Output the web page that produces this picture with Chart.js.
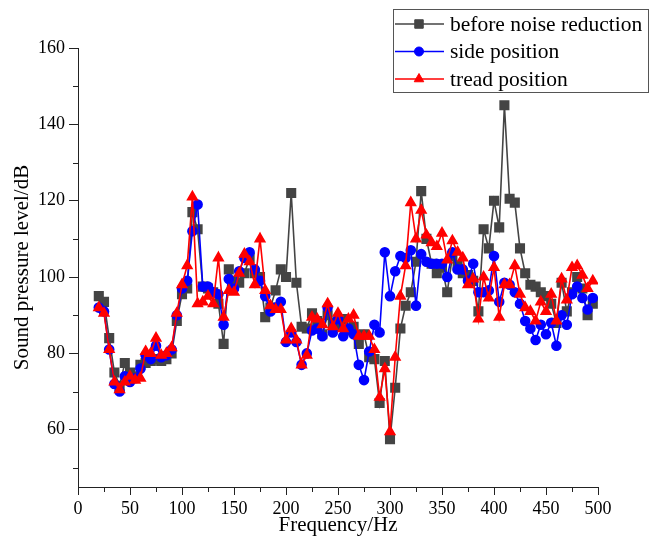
<!DOCTYPE html>
<html>
<head>
<meta charset="utf-8">
<script src="https://cdn.jsdelivr.net/npm/chart.js@4.4.1/dist/chart.umd.min.js"></script>
<style>
  html, body { margin: 0; padding: 0; background: #fff; }
  #wrap { width: 657px; height: 536px; }
</style>
</head>
<body>
<div id="wrap"><canvas id="noiseChart" width="657" height="536"></canvas></div>
<script>
// measured spectra, one value every 5 Hz
const frequency = [
  20, 25, 30, 35, 40, 45, 50, 55, 60, 65, 70, 75, 80, 85, 90, 95,
  100, 105, 110, 115, 120, 125, 130, 135, 140, 145, 150, 155, 160, 165, 170, 175,
  180, 185, 190, 195, 200, 205, 210, 215, 220, 225, 230, 235, 240, 245, 250, 255,
  260, 265, 270, 275, 280, 285, 290, 295, 300, 305, 310, 315, 320, 325, 330, 335,
  340, 345, 350, 355, 360, 365, 370, 375, 380, 385, 390, 395, 400, 405, 410, 415,
  420, 425, 430, 435, 440, 445, 450, 455, 460, 465, 470, 475, 480, 485, 490, 495
];
const beforeReduction = [
  95, 93.5, 84, 75, 71.5, 77.5, 75, 74, 77, 77.5, 78, 78.5, 78, 78.5, 80, 88.5,
  95.5, 97, 117, 112.5, 97.5, 97, 96, 93, 82.5, 102, 99, 98.5, 101, 105, 101, 100,
  89.5, 92, 96.5, 102, 100, 122, 98.5, 87, 86.5, 90.5, 88.5, 85, 90, 88, 87, 89,
  86, 87, 82.5, 85, 79, 78.5, 67, 78, 57.5, 71, 86.5, 92.5, 96, 104, 122.5, 110,
  103.5, 101, 102.5, 96, 105.5, 103, 101, 100.5, 99, 91, 112.5, 107.5, 120, 113, 145, 120.5,
  119.5, 107.5, 101, 98, 97.5, 96, 95, 93, 88, 98.5, 91, 96, 100, 97, 90, 93
];
const sidePosition = [
  92, 91, 81, 72, 70, 74, 72.5, 73.5, 76, 79.5, 78.5, 82, 79, 79.5, 81, 90,
  97, 99, 112, 119, 97.5, 97.5, 96, 95.5, 87.5, 99.5, 97, 101.5, 105, 106.5, 102, 99,
  95, 91, 92, 93.5, 83, 85.5, 83, 77, 80, 86, 86.5, 84.5, 92, 85.5, 89, 84.5,
  86.5, 85, 77, 73, 80.5, 87.5, 85.5, 106.5, 95, 101.5, 105.5, 105, 107, 92.5, 106, 104,
  103.5, 103.5, 103.5, 100, 106.5, 102, 102, 99, 103.5, 96, 96, 96.5, 105.5, 93.5, 98.5, 98,
  96, 93, 88.5, 86.5, 83.5, 87.5, 85, 88, 82, 90, 87.5, 95.5, 97.5, 94.5, 91.5, 94.5
];
const treadPosition = [
  92, 90.5, 81, 72.5, 70.5, 72.5, 74, 73, 73.5, 80.5, 80, 84, 79.5, 80, 81.5, 90.5,
  98, 103, 121, 93, 93.5, 95, 93, 105, 89.5, 96.5, 96, 101, 106, 104, 98, 110,
  96.5, 92.5, 91.5, 91.5, 83.5, 86.5, 83.5, 77, 79.5, 89.5, 89, 87.5, 93, 87, 90.5, 86.5,
  89, 90, 84.5, 84.5, 84.5, 81, 68.5, 76, 59.5, 79, 95, 103, 119.5, 110, 117.5, 111,
  109, 108, 111.5, 104.5, 109.5, 106.5, 105, 98, 99.5, 89, 100, 94.5, 102.5, 89.5, 98, 98,
  103, 95.5, 92, 91, 88.5, 93.5, 91, 95.5, 88.5, 99.5, 94, 102.5, 103, 100.5, 97, 99
];

const xTicks = [0, 25, 50, 75, 100, 125, 150, 175, 200, 225, 250, 275, 300, 325, 350, 375, 400, 425, 450, 475, 500];
const yTicks = [50, 60, 70, 80, 90, 100, 110, 120, 130, 140, 150, 160];

const serif = "'Liberation Serif', 'Times New Roman', serif";

function toPoints(values) {
  return values.map((v, i) => ({ x: frequency[i], y: v }));
}

// short minor ticks between the labelled ones
const minorTicks = {
  id: 'minorTicks',
  afterDraw(chart) {
    const { ctx, chartArea } = chart;
    const xs = chart.scales.x;
    const ys = chart.scales.y;
    ctx.save();
    ctx.strokeStyle = '#222';
    ctx.lineWidth = 1;
    ctx.beginPath();
    xTicks.filter(v => v % 50 !== 0).forEach(v => {
      const px = Math.round(xs.getPixelForValue(v)) + 0.5;
      ctx.moveTo(px, chartArea.bottom);
      ctx.lineTo(px, chartArea.bottom + 5);
    });
    yTicks.filter(v => v % 20 !== 0).forEach(v => {
      const py = Math.round(ys.getPixelForValue(v)) + 0.5;
      ctx.moveTo(chartArea.left - 5, py);
      ctx.lineTo(chartArea.left, py);
    });
    ctx.stroke();
    ctx.restore();
  }
};

// boxed legend in the top right corner
const boxLegend = {
  id: 'boxLegend',
  afterDraw(chart) {
    const ctx = chart.ctx;
    ctx.save();
    ctx.fillStyle = '#fff';
    ctx.fillRect(393, 9, 255, 83);
    ctx.strokeStyle = '#555';
    ctx.lineWidth = 1;
    ctx.strokeRect(393.5, 9.5, 255, 83);
    chart.data.datasets.forEach((ds, i) => {
      const y = 24 + i * 27.5;
      ctx.strokeStyle = ds.borderColor;
      ctx.lineWidth = ds.borderWidth;
      ctx.beginPath();
      ctx.moveTo(395, y);
      ctx.lineTo(444, y);
      ctx.stroke();
      ctx.fillStyle = ds.pointBackgroundColor;
      ctx.strokeStyle = ds.pointBorderColor;
      ctx.lineWidth = 1;
      Chart.helpers.drawPoint(ctx, { pointStyle: ds.pointStyle, radius: ds.pointRadius, borderWidth: 1, rotation: 0 }, 419, y);
      ctx.fillStyle = '#000';
      ctx.font = '21.5px ' + serif;
      ctx.textBaseline = 'middle';
      ctx.fillText(ds.label, 450, y + 1);
    });
    ctx.restore();
  }
};

const tickFont = { family: serif, size: 18 };

new Chart(document.getElementById('noiseChart'), {
  type: 'line',
  data: {
    datasets: [
      {
        label: 'before noise reduction',
        data: toPoints(beforeReduction),
        borderColor: '#444444',
        backgroundColor: '#444444',
        pointBackgroundColor: '#444444',
        pointBorderColor: '#444444',
        pointStyle: 'rect',
        pointRadius: 6,
        borderWidth: 1.6,
        order: 3
      },
      {
        label: 'side position',
        data: toPoints(sidePosition),
        borderColor: '#0000ff',
        backgroundColor: '#0000ff',
        pointBackgroundColor: '#0000ff',
        pointBorderColor: '#0000ff',
        pointStyle: 'circle',
        pointRadius: 4.5,
        borderWidth: 1.6,
        order: 2
      },
      {
        label: 'tread position',
        data: toPoints(treadPosition),
        borderColor: '#ff0000',
        backgroundColor: '#ff0000',
        pointBackgroundColor: '#ff0000',
        pointBorderColor: '#ff0000',
        pointStyle: 'triangle',
        pointRadius: 5.5,
        borderWidth: 1.6,
        order: 1
      }
    ]
  },
  options: {
    responsive: false,
    animation: false,
    devicePixelRatio: 1,
    layout: { padding: { left: 0, top: 48, right: 59, bottom: 0 } },
    plugins: {
      legend: { display: false },
      tooltip: { enabled: false }
    },
    elements: { line: { tension: 0 } },
    scales: {
      x: {
        type: 'linear',
        min: 0,
        max: 500,
        afterBuildTicks: s => { s.ticks = xTicks.map(v => ({ value: v })); },
        afterFit: s => { s.height = 49; },
        ticks: {
          autoSkip: false,
          maxRotation: 0,
          padding: 3,
          color: '#000',
          font: tickFont,
          callback: v => (v % 50 === 0 ? String(v) : '')
        },
        grid: {
          drawOnChartArea: false,
          drawTicks: true,
          tickLength: 8,
          color: c => (c.tick && c.tick.value % 50 === 0 ? '#222' : 'rgba(0,0,0,0)')
        },
        border: { display: true, color: '#222', width: 1 },
        title: {
          display: true,
          text: 'Frequency/Hz',
          color: '#000',
          font: { family: serif, size: 21, lineHeight: 1 },
          padding: { top: 0, bottom: 0 }
        }
      },
      y: {
        type: 'linear',
        min: 45,
        max: 160,
        afterBuildTicks: s => { s.ticks = yTicks.map(v => ({ value: v })); },
        afterFit: s => { s.width = 78; },
        ticks: {
          autoSkip: false,
          padding: 4,
          color: '#000',
          font: tickFont,
          callback: v => (v % 20 === 0 ? String(v) : '')
        },
        grid: {
          drawOnChartArea: false,
          drawTicks: true,
          tickLength: 9,
          color: c => (c.tick && c.tick.value % 20 === 0 ? '#222' : 'rgba(0,0,0,0)')
        },
        border: { display: true, color: '#222', width: 1 },
        title: {
          display: true,
          text: 'Sound pressure level/dB',
          color: '#000',
          font: { family: serif, size: 21 },
          padding: { top: 10, bottom: 0 }
        }
      }
    }
  },
  plugins: [minorTicks, boxLegend]
});
</script>
</body>
</html>
